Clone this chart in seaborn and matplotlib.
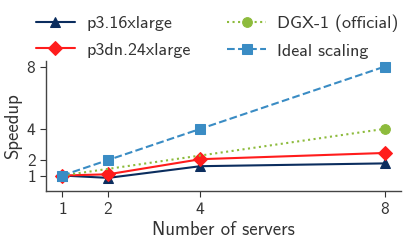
import matplotlib
matplotlib.use("Agg")
import matplotlib.pyplot as plt
import seaborn as sns
import pandas as pd

servers = [1, 2, 4, 8]
p3_16x = [1.0, 0.85, 1.6, 1.78]
p3dn_24x = [1.0, 1.08, 2.05, 2.45]
dgx_servers = [1, 8]
dgx_official = [1.0, 4.0]
ideal = [1, 2, 4, 8]

sns.set_theme(style="ticks")
plt.rcParams['font.family'] = ['cmss10', 'DejaVu Sans']
plt.rcParams['axes.formatter.use_mathtext'] = True

fig = plt.figure(figsize=(4.15, 2.45), dpi=100)
ax = fig.add_axes([0.111, 0.22, 0.855, 0.531])

c_navy = "#0b2d5e"
c_red = "#ff1c1c"
c_green = "#8dbb3c"
c_blue = "#3a8cc4"

df1 = pd.DataFrame({"x": servers, "y": p3_16x})
df2 = pd.DataFrame({"x": servers, "y": p3dn_24x})
df3 = pd.DataFrame({"x": dgx_servers, "y": dgx_official})
df4 = pd.DataFrame({"x": servers, "y": ideal})

sns.lineplot(data=df1, x="x", y="y", ax=ax, color=c_navy, marker="^", markersize=7,
             markeredgecolor=c_navy, linewidth=1.5, label="p3.16xlarge")
sns.lineplot(data=df2, x="x", y="y", ax=ax, color=c_red, marker="D", markersize=7,
             markeredgecolor=c_red, linewidth=1.5, label="p3dn.24xlarge")
sns.lineplot(data=df3, x="x", y="y", ax=ax, color=c_green, marker="o", markersize=7,
             markeredgecolor=c_green, linewidth=1.5, linestyle=":", label="DGX-1 (official)")
sns.lineplot(data=df4, x="x", y="y", ax=ax, color=c_blue, marker="s", markersize=7,
             markeredgecolor=c_blue, linewidth=1.5, linestyle="--", label="Ideal scaling")

ax.set_xticks(servers)
ax.set_yticks([1, 2, 4, 8])
ax.set_ylim(bottom=0)
ax.set_xlabel("Number of servers", fontsize=13.5, color="#333333", labelpad=3)
ax.set_ylabel("Speedup", fontsize=13.5, color="#333333", labelpad=3)
ax.tick_params(axis="both", labelsize=12.5, colors="#333333", length=4, width=0.8, pad=3)
for s in ["left", "bottom"]:
    ax.spines[s].set_color("#444444")
    ax.spines[s].set_linewidth(1.0)
sns.despine(ax=ax)

ax.legend(ncol=2, loc="lower left", bbox_to_anchor=(-0.06, 0.935), frameon=False,
          fontsize=13, handlelength=2.2, columnspacing=2.0, labelspacing=0.6,
          handletextpad=0.6, labelcolor="#333333", borderaxespad=0.2)

fig.savefig("out.png", dpi=100)
